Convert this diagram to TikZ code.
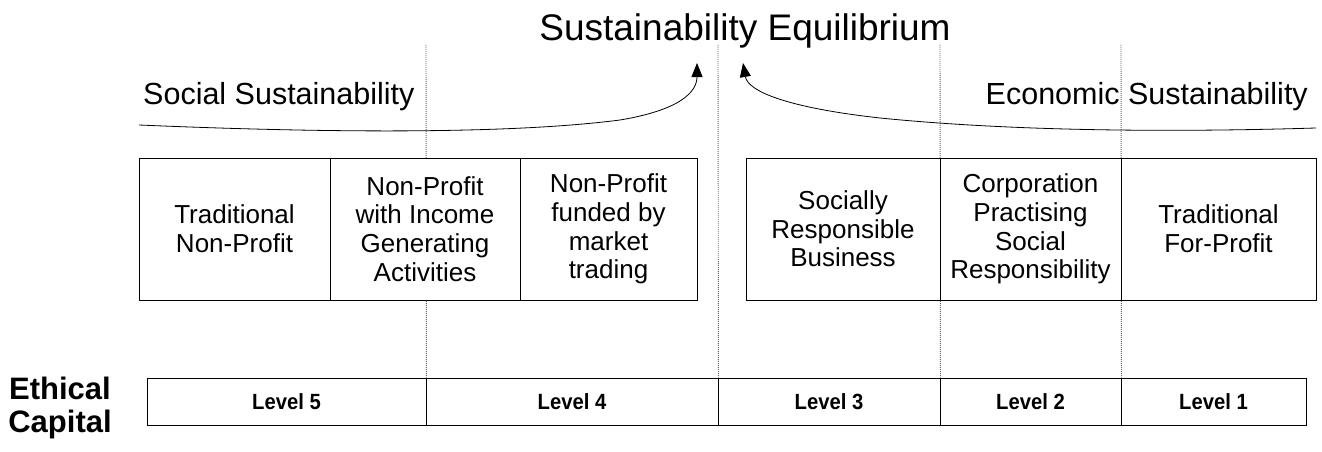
\documentclass[tikz,border=0pt]{standalone}
\usepackage{fontspec}
\setmainfont{Liberation Sans}
\usetikzlibrary{arrows.meta}
\begin{document}
\begin{tikzpicture}[x=1pt,y=-1pt,
  box/.style={draw,fill=white,line width=0.9pt,minimum height=142pt,inner sep=0pt,align=center,font=\fontsize{26}{28.7}\selectfont},
  lvl/.style={draw,fill=white,line width=0.9pt,minimum height=47pt,inner sep=0pt,text height=16pt,text depth=0pt,font=\bfseries\fontsize{22}{24}\selectfont},
  guide/.style={line width=0.9pt,black!60,dash pattern=on 1pt off 1pt},
  flow/.style={line width=0.8pt,-{Triangle[length=14pt,width=11pt]}},
  heading/.style={inner sep=0pt,font=\fontsize{30.5}{34}\selectfont}]
\useasboundingbox (0,0) rectangle (1322,452);

% bottom bar
\node[lvl,minimum width=279pt] (l5) at (286.5,401.5) {\scalebox{0.92}[1]{Level 5}};
\node[lvl,minimum width=292pt] (l4) at (572,401.5) {\scalebox{0.92}[1]{Level 4}};
\node[lvl,minimum width=222pt] (l3) at (829,401.5) {\scalebox{0.92}[1]{Level 3}};
\node[lvl,minimum width=181pt] (l2) at (1030.5,401.5) {\scalebox{0.92}[1]{Level 2}};
\node[lvl,minimum width=185pt] (l1) at (1213.5,401.5) {\scalebox{0.92}[1]{Level 1}};
\node[inner sep=0pt,align=center,font=\bfseries\fontsize{31}{33}\selectfont] (ec) at (60,408) {Ethical\\Capital};

% guide lines
\coordinate (g1) at (426,45);
\coordinate (g2) at (718,45);
\coordinate (g3) at (940,45);
\coordinate (g4) at (1121,45);
\draw[guide] (g1) -- (l5.north east);
\draw[guide] (g2) -- (l4.north east);
\draw[guide] (g3) -- (l3.north east);
\draw[guide] (g4) -- (l2.north east);

% top boxes
\node[box,minimum width=191pt] (b1) at (234.5,229) {Traditional\\Non-Profit};
\node[box,minimum width=190pt] (b2) at (425,229) {Non-Profit\\with Income\\Generating\\Activities};
\node[box,minimum width=177pt] (b3) at (608.5,229) {Non-Profit\\funded by\\market\\trading};
\node[box,minimum width=194pt] (b4) at (843,229) {Socially\\Responsible\\Business};
\node[box,minimum width=181pt] (b5) at (1030.5,229) {Corporation\\Practising\\Social\\Responsibility};
\node[box,minimum width=195pt] (b6) at (1218.5,229) {Traditional\\For-Profit};

% headings
\node[inner sep=0pt,font=\fontsize{37}{40}\selectfont] (title) at (745,31) {Sustainability Equilibrium};
\node[heading,anchor=west] (soc) at (143,97) {Social Sustainability};
\node[heading,anchor=east] (eco) at (1308,97) {Economic Sustainability};

% flows
\coordinate (s0) at (139,125);
\coordinate (s1) at (697,63);
\coordinate (e0) at (1316,128);
\coordinate (e1) at (743,63);
\draw[flow] (s0) .. controls (350,134) and (520,133) .. (620,120) .. controls (680,110) and (697,92) .. (s1);
\draw[flow] (e0) .. controls (1150,133) and (1000,130) .. (880,118) .. controls (790,108) and (748,92) .. (e1);
\end{tikzpicture}
\end{document}
